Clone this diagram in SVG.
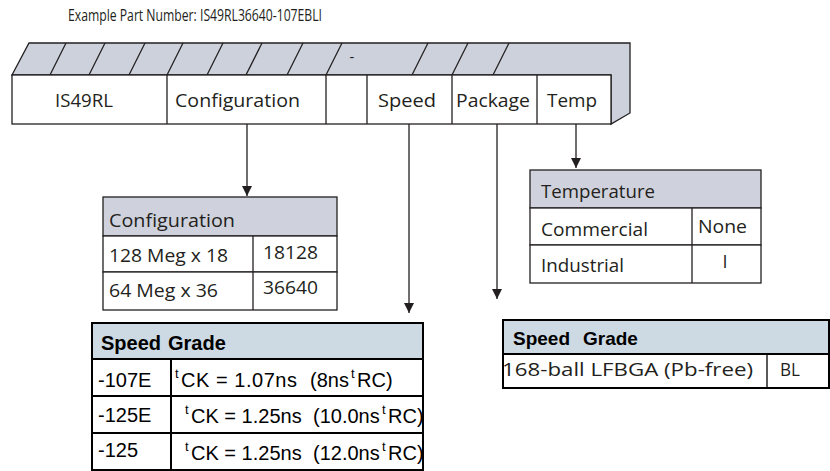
<svg xmlns="http://www.w3.org/2000/svg" width="830" height="471" viewBox="0 0 830 471">
<defs>
<marker id="ah" viewBox="0 0 10 14" refX="10" refY="7" markerWidth="10" markerHeight="14" markerUnits="userSpaceOnUse" orient="auto">
<path d="M0,2 L10,7 L0,12 Z" fill="#231f20"/>
</marker>
<style>
.my{font-family:"Open Sans","Noto Sans",sans-serif;fill:#231f20}
.ar{font-family:"Liberation Sans",Arial,sans-serif;fill:#000}
.sup{font-family:"Liberation Sans",Arial,sans-serif;fill:#000;font-size:13px}
.ln{stroke:#231f20;stroke-width:1.3;fill:none}
.cell{fill:#fff;stroke:#231f20;stroke-width:1.3}
.hdr{fill:#cfd2dc;stroke:#231f20;stroke-width:1.3}
.sg{fill:#fff;stroke:#000;stroke-width:2}
.sgh{fill:#cddae3;stroke:#000;stroke-width:2}
.conn{stroke:#231f20;stroke-width:1.3;fill:none}
</style>
</defs>
<rect width="830" height="471" fill="#fff"/>
<text class="my" x="68" y="21" font-size="16" textLength="254" lengthAdjust="spacingAndGlyphs">Example Part Number: IS49RL36640-107EBLI</text>

<g id="partnumber">
<path d="M12,75 L29,43 L630,43 L630,113 L611,124 L611,75 Z" fill="#cdd1dc" stroke="#231f20" stroke-width="1.3"/>
<g class="ln">
<line x1="50" y1="75" x2="66" y2="43"/>
<line x1="89" y1="75" x2="105" y2="43"/>
<line x1="129" y1="75" x2="145" y2="43"/>
<line x1="167" y1="75" x2="183" y2="43"/>
<line x1="207" y1="75" x2="223" y2="43"/>
<line x1="246" y1="75" x2="262" y2="43"/>
<line x1="287" y1="75" x2="303" y2="43"/>
<line x1="326" y1="75" x2="342" y2="43"/>
<line x1="412" y1="75" x2="428" y2="43"/>
<line x1="452" y1="75" x2="468" y2="43"/>
<line x1="493" y1="75" x2="509" y2="43"/>
</g>
<text class="my" x="352" y="62" font-size="15" text-anchor="middle">-</text>
<rect x="12" y="75" width="599" height="49" class="cell"/>
<g class="ln">
<line x1="167" y1="75" x2="167" y2="124"/>
<line x1="326" y1="75" x2="326" y2="124"/>
<line x1="367" y1="75" x2="367" y2="124"/>
<line x1="452" y1="75" x2="452" y2="124"/>
<line x1="537" y1="75" x2="537" y2="124"/>
</g>
<text class="my" x="55" y="107" font-size="18" textLength="58" lengthAdjust="spacingAndGlyphs">IS49RL</text>
<text class="my" x="175" y="107" font-size="18" textLength="125" lengthAdjust="spacingAndGlyphs">Configuration</text>
<text class="my" x="378" y="107" font-size="18" textLength="58" lengthAdjust="spacingAndGlyphs">Speed</text>
<text class="my" x="456" y="107" font-size="18" textLength="74" lengthAdjust="spacingAndGlyphs">Package</text>
<text class="my" x="547" y="107" font-size="18" textLength="50" lengthAdjust="spacingAndGlyphs">Temp</text>
</g>

<g id="connectors">
<line class="conn" x1="247" y1="124" x2="247" y2="196" marker-end="url(#ah)"/>
<line class="conn" x1="409" y1="124" x2="409" y2="313" marker-end="url(#ah)"/>
<line class="conn" x1="497" y1="124" x2="497" y2="299" marker-end="url(#ah)"/>
<line class="conn" x1="576" y1="124" x2="576" y2="168" marker-end="url(#ah)"/>
</g>

<g id="config-table">
<rect x="103" y="197" width="234" height="39" class="hdr"/>
<rect x="103" y="236" width="234" height="36" class="cell"/>
<rect x="103" y="272" width="234" height="38" class="cell"/>
<line class="ln" x1="253" y1="236" x2="253" y2="310"/>
<text class="my" x="109" y="227" font-size="18" textLength="126" lengthAdjust="spacingAndGlyphs">Configuration</text>
<text class="my" x="109" y="262" font-size="18" textLength="119" lengthAdjust="spacingAndGlyphs">128 Meg x 18</text>
<text class="my" x="263" y="259" font-size="18" textLength="55" lengthAdjust="spacingAndGlyphs">18128</text>
<text class="my" x="109" y="297" font-size="18" textLength="109" lengthAdjust="spacingAndGlyphs">64 Meg x 36</text>
<text class="my" x="263" y="294" font-size="18" textLength="55" lengthAdjust="spacingAndGlyphs">36640</text>
</g>

<g id="temp-table">
<rect x="530" y="170" width="231" height="38" class="hdr"/>
<rect x="530" y="208" width="231" height="37" class="cell"/>
<rect x="530" y="245" width="231" height="38" class="cell"/>
<line class="ln" x1="692" y1="208" x2="692" y2="283"/>
<text class="my" x="541" y="198" font-size="18" textLength="114" lengthAdjust="spacingAndGlyphs">Temperature</text>
<text class="my" x="541" y="236" font-size="18" textLength="107" lengthAdjust="spacingAndGlyphs">Commercial</text>
<text class="my" x="698" y="233" font-size="18" textLength="49" lengthAdjust="spacingAndGlyphs">None</text>
<text class="my" x="541" y="272" font-size="18" textLength="83" lengthAdjust="spacingAndGlyphs">Industrial</text>
<text class="my" x="725" y="268" font-size="18" text-anchor="middle">I</text>
</g>

<g id="speed-table">
<rect x="92" y="323" width="331" height="36" class="sgh"/>
<rect x="92" y="359" width="331" height="37" class="sg"/>
<rect x="92" y="396" width="331" height="37" class="sg"/>
<rect x="92" y="433" width="331" height="37" class="sg"/>
<line x1="171" y1="359" x2="171" y2="470" stroke="#000" stroke-width="2"/>
<text class="ar" x="101" y="350" font-size="20" font-weight="bold">Speed</text>
<text class="ar" x="168" y="350" font-size="20" font-weight="bold">Grade</text>
<text class="ar" x="98" y="387" font-size="20">-107E</text>
<text class="ar" x="98" y="422" font-size="20">-125E</text>
<text class="ar" x="98" y="457" font-size="20">-125</text>
<text class="sup" x="175" y="378">t</text>
<text class="ar" x="181" y="387" font-size="20" textLength="116" lengthAdjust="spacing">CK = 1.07ns</text>
<text class="ar" x="310" y="387" font-size="20">(8ns</text>
<text class="sup" x="351" y="378">t</text>
<text class="ar" x="357" y="387" font-size="20">RC)</text>
<text class="sup" x="185" y="414">t</text>
<text class="ar" x="191" y="423" font-size="20">CK = 1.25ns</text>
<text class="ar" x="313" y="423" font-size="20">(10.0ns</text>
<text class="sup" x="382" y="414">t</text>
<text class="ar" x="388" y="423" font-size="20">RC)</text>
<text class="sup" x="185" y="451">t</text>
<text class="ar" x="191" y="460" font-size="20">CK = 1.25ns</text>
<text class="ar" x="313" y="460" font-size="20">(12.0ns</text>
<text class="sup" x="382" y="451">t</text>
<text class="ar" x="388" y="460" font-size="20">RC)</text>
</g>

<g id="package-table">
<rect x="503" y="320" width="326" height="34" class="sgh"/>
<rect x="503" y="354" width="326" height="34" class="sg"/>
<line x1="767" y1="354" x2="767" y2="388" stroke="#000" stroke-width="1.3"/>
<text class="ar" x="513" y="345" font-size="19" font-weight="bold">Speed</text>
<text class="ar" x="583" y="345" font-size="19" font-weight="bold">Grade</text>
<text class="my" x="502" y="376" font-size="18" fill="#000" textLength="251" lengthAdjust="spacingAndGlyphs">168-ball LFBGA (Pb-free)</text>
<text class="my" x="780" y="376" font-size="18" textLength="20" lengthAdjust="spacingAndGlyphs">BL</text>
</g>
</svg>
